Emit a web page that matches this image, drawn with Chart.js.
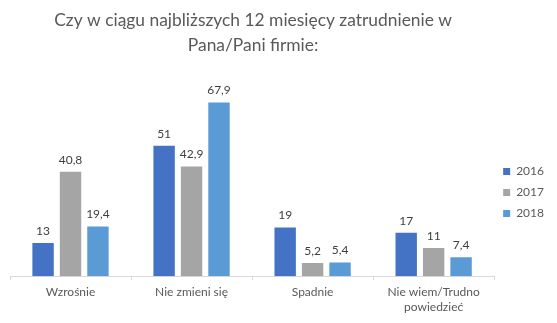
<!DOCTYPE html>
<html>
<head>
<meta charset="utf-8">
<script src="https://cdn.jsdelivr.net/npm/chart.js@4"></script>
<style>
  html, body { margin: 0; padding: 0; background: #fff; }
  #wrap { width: 557px; height: 323px; }
</style>
</head>
<body>
<div id="wrap"><canvas id="chart" width="557" height="323"></canvas></div>
<script>
var categories = ["Wzrośnie", "Nie zmieni się", "Spadnie", ["Nie wiem/Trudno", "powiedzieć"]];
var years = ["2016", "2017", "2018"];
var values2016 = [13, 51, 19, 17];
var values2017 = [40.8, 42.9, 5.2, 11];
var values2018 = [19.4, 67.9, 5.4, 7.4];
var colors = ["#4472C4", "#A5A5A5", "#5B9BD5"];

var fontName = "Lato, 'Open Sans', sans-serif";

// draws value labels above bars, Polish decimal comma
var barLabels = {
  id: 'barLabels',
  afterDatasetsDraw: function (chart) {
    var ctx = chart.ctx;
    ctx.save();
    ctx.font = "12px " + fontName;
    ctx.fillStyle = "#404040";
    ctx.textAlign = "center";
    ctx.textBaseline = "bottom";
    chart.data.datasets.forEach(function (ds, i) {
      chart.getDatasetMeta(i).data.forEach(function (bar, j) {
        var txt = String(ds.data[j]).replace(".", ",");
        ctx.fillText(txt, bar.x, bar.y - 6);
      });
    });
    ctx.restore();
  }
};

// title centred over the plot, legend a bit lower, like in Excel
var excelLayout = {
  id: 'excelLayout',
  afterLayout: function (chart) {
    var t = chart.titleBlock;
    if (t) {
      t.left = chart.chartArea.left;
      t.right = chart.chartArea.right + 2;
      t.width = t.right - t.left;
    }
    var lg = chart.legend;
    if (lg) {
      lg.top += 29;
      lg.bottom += 29;
    }
  }
};

new Chart(document.getElementById("chart"), {
  type: 'bar',
  data: {
    labels: categories,
    datasets: [
      { label: years[0], data: values2016, backgroundColor: colors[0] },
      { label: years[1], data: values2017, backgroundColor: colors[1] },
      { label: years[2], data: values2018, backgroundColor: colors[2] }
    ]
  },
  options: {
    responsive: false,
    animation: false,
    datasets: {
      bar: { barPercentage: 0.78, categoryPercentage: 0.68 }
    },
    layout: { padding: { left: 10, right: 3, top: 8, bottom: 4 } },
    plugins: {
      title: {
        display: true,
        fullSize: false,
        text: ["Czy w ciągu najbliższych 12 miesięcy zatrudnienie w", "Pana/Pani firmie:"],
        color: "#595959",
        font: { family: fontName, size: 17.4, weight: 'normal', lineHeight: 1.42 },
        padding: { top: 0, bottom: 14 }
      },
      legend: {
        position: 'right',
        labels: {
          boxWidth: 7,
          boxHeight: 7,
          padding: 9,
          color: "#595959",
          font: { family: fontName, size: 12 }
        }
      },
      tooltip: { enabled: false }
    },
    scales: {
      x: {
        grid: {
          display: true,
          drawOnChartArea: false,
          offset: true,
          tickLength: 4,
          color: "#D9D9D9"
        },
        border: { display: true, color: "#D9D9D9" },
        ticks: {
          color: "#595959",
          padding: 5,
          maxRotation: 0,
          font: { family: fontName, size: 12 }
        }
      },
      y: {
        display: false,
        min: 0,
        max: 80
      }
    }
  },
  plugins: [barLabels, excelLayout]
});
</script>
</body>
</html>
